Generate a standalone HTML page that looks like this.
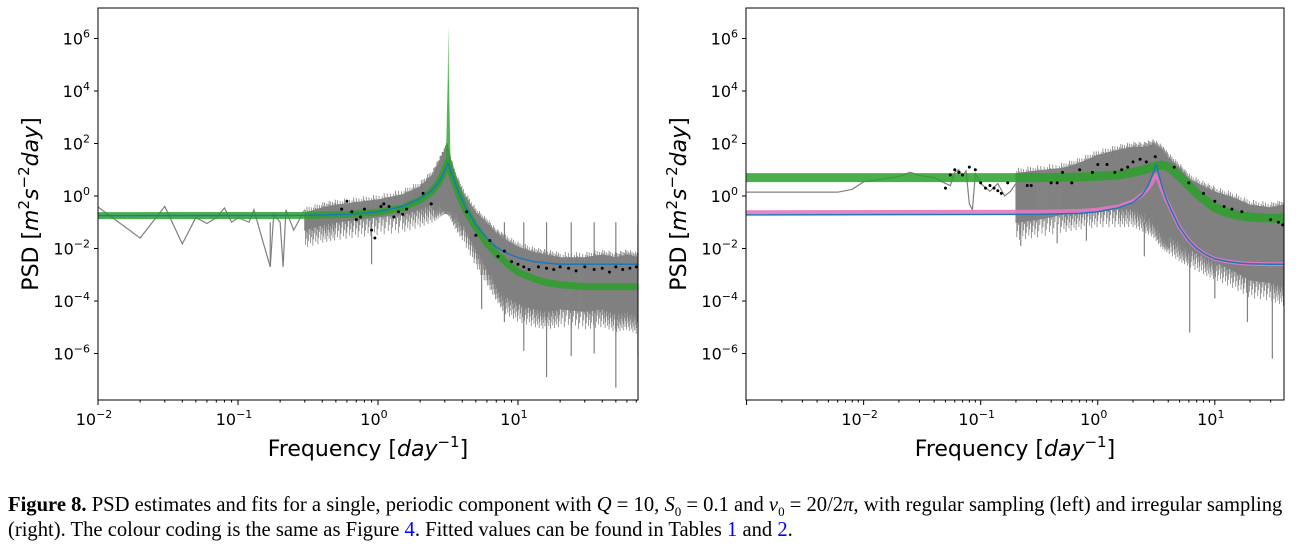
<!DOCTYPE html>
<html><head><meta charset="utf-8">
<style>
body{margin:0;background:#fff;width:1299px;height:555px;overflow:hidden;position:relative;font-family:"DejaVu Sans","Liberation Sans",sans-serif}
.cap{position:absolute;left:8px;font-family:"Liberation Serif",serif;font-size:20.6px;color:#000;white-space:nowrap}
.cap i{font-style:italic}
.cap a{color:#00f;text-decoration:none}
</style></head><body>
<svg id="chart" width="1299" height="470" style="position:absolute;left:0;top:0" xmlns="http://www.w3.org/2000/svg"></svg>
<div class="cap" style="top:494px"><b>Figure 8.</b> PSD estimates and fits for a single, periodic component with <i>Q</i> = 10, <i>S</i><sub style="font-size:13px">0</sub> = 0.1 and <i>ν</i><sub style="font-size:13px">0</sub> = 20/2<i>π</i>, with regular sampling (left) and irregular sampling</div>
<div class="cap" style="top:519px">(right). The colour coding is the same as Figure <a>4</a>. Fitted values can be found in Tables <a>1</a> and <a>2</a>.</div>
<script>
// ---- data (log10 frequency, log10 PSD) ----
const yTicks=[-6,-4,-2,0,2,4,6];
const L_xTicks=[-2,-1,0,1];
const R_xTicks=[-2,-1,0,1];
// left panel
const L_grayLineF=[0.01,0.02,0.03,0.04,0.05,0.06,0.07,0.08,0.09,0.1,0.12,0.13,0.15,0.17,0.18,0.2,0.21,0.22,0.25,0.3];
const L_grayLineV=[0.38,0.025,0.4,0.015,0.15,0.09,0.15,0.35,0.1,0.15,0.1,0.3,0.02,0.002,0.2,0.1,0.002,0.3,0.05,0.3];
const L_bandF=[0.3,0.4,0.5,0.7,1,1.5,2,2.5,2.8,3.0,3.1,3.25,3.5,4,5,6,7,8,10,13,16,20,30,40,50,60,72];
const L_bandHi=[-0.5,-0.3,-0.2,-0.1,0,0.2,0.5,1.0,1.5,1.8,2.0,1.6,1.0,0.3,-0.5,-0.9,-1.3,-1.5,-1.8,-2.0,-2.1,-2.2,-2.2,-2.1,-2.2,-2.1,-2.2];
const L_bandLo=[-1.8,-1.6,-1.5,-1.4,-1.3,-1.2,-1.0,-0.8,-0.6,-0.5,-0.5,-0.6,-1.0,-1.5,-2.5,-3.2,-3.8,-4.3,-4.6,-4.8,-4.9,-4.8,-4.9,-4.8,-5.0,-4.9,-5.1];
const L_spikeF=[0.17,0.9,5.5,8,11,16,24,35,50,72];
const L_spikeV=[-2.7,-2.6,-4.3,-4.8,-5.9,-6.9,-6.1,-6.0,-7.3,-6.1];
const L_fitF=[0.01,0.3,0.6,1,1.5,2,2.4,2.7,2.9,3.05,3.15,3.2,3.3,3.5,3.8,4.2,5,6,7,8.5,10,13,16,20,30,50,72];
const L_blue=[-0.75,-0.74,-0.7,-0.6,-0.4,-0.1,0.2,0.5,0.8,1.05,1.25,1.2,0.95,0.6,0.1,-0.4,-1.1,-1.6,-1.95,-2.2,-2.35,-2.5,-2.55,-2.6,-2.6,-2.6,-2.6];
const L_green=[-0.75,-0.74,-0.7,-0.62,-0.45,-0.15,0.15,0.5,0.8,1.1,1.3,1.25,0.95,0.55,0.05,-0.5,-1.2,-1.8,-2.2,-2.6,-2.9,-3.15,-3.3,-3.38,-3.45,-3.45,-3.45];
const L_dotF=[0.55,0.6,0.65,0.7,0.75,0.8,0.9,0.95,1.05,1.1,1.2,1.3,1.4,1.5,1.6,2.1,2.4,4.3,5,6.3,7.2,8,9,10,11,12,14,16,18,20,23,26,30,35,40,45,50,56,63,70];
const L_dotV=[-0.5,-0.2,-0.6,-0.9,-0.8,-0.5,-1.3,-1.6,-0.4,-0.3,-0.4,-0.8,-0.6,-0.7,-0.5,0.1,-0.3,-0.6,-1.5,-1.7,-2.3,-2.1,-2.5,-2.6,-2.7,-2.8,-2.7,-2.75,-2.8,-2.7,-2.75,-2.85,-2.7,-2.8,-2.75,-2.9,-2.7,-2.8,-2.75,-2.7];
// right panel
const R_grayLineF=[0.001,0.003,0.006,0.008,0.01,0.015,0.02,0.025,0.03,0.04,0.05,0.055,0.06,0.065,0.07,0.075,0.08,0.085,0.09,0.1,0.12,0.14,0.16,0.18,0.2];
const R_grayLineV=[1.4,1.4,1.4,1.8,3.5,4.5,5.5,8,6,5,3,2.5,8,10,6,9,0.5,0.3,7,3,1.5,3,1,1.5,3];
const R_bandF=[0.2,0.3,0.5,0.7,1,1.5,2,2.5,3,3.5,4,5,6,8,10,14,20,30,39];
const R_bandHi=[1.0,1.1,1.2,1.4,1.7,1.9,2.0,2.0,2.1,1.9,1.6,1.2,0.8,0.5,0.3,0.1,-0.2,-0.3,-0.2];
const R_bandLo=[-1.5,-1.4,-1.2,-1.1,-1.0,-1.0,-1.0,-1.2,-1.4,-1.8,-2.0,-2.3,-2.5,-2.8,-3.0,-3.3,-3.7,-3.8,-4.0];
const R_spikeF=[0.13,0.22,0.45,0.8,2.5,4.0,6.1,10,19,31];
const R_spikeV=[-1.0,-1.9,-1.8,-1.7,-2.3,-2.0,-5.2,-3.9,-4.8,-6.2];
const R_fitF=[0.001,0.3,0.7,1,1.5,2,2.4,2.7,2.9,3.05,3.15,3.2,3.3,3.5,3.8,4.2,5,6,7,8.5,10,13,16,20,30,39];
const R_green=[0.7,0.7,0.72,0.75,0.8,0.9,0.98,1.05,1.1,1.12,1.14,1.15,1.16,1.18,1.15,1.05,0.75,0.4,0.1,-0.2,-0.45,-0.65,-0.75,-0.8,-0.85,-0.85];
const R_pink=[-0.62,-0.6,-0.57,-0.52,-0.4,-0.2,0.05,0.3,0.5,0.7,0.8,0.78,0.6,0.3,-0.1,-0.5,-1.2,-1.7,-2.0,-2.25,-2.4,-2.5,-2.55,-2.58,-2.6,-2.6];
const R_blue=[-0.72,-0.7,-0.66,-0.6,-0.45,-0.25,0.05,0.4,0.75,1.0,1.2,1.15,0.85,0.45,-0.05,-0.5,-1.2,-1.7,-2.0,-2.25,-2.4,-2.5,-2.55,-2.58,-2.6,-2.6];
const R_dotF=[0.05,0.055,0.06,0.065,0.07,0.08,0.09,0.1,0.11,0.12,0.13,0.14,0.15,0.17,0.25,0.27,0.4,0.45,0.5,0.6,0.7,0.9,1.0,1.2,1.4,1.6,1.8,2.0,2.3,2.6,3.1,4.5,6,8,10,12,14,17,30,35,38];
const R_dotV=[0.3,0.8,1.0,0.9,0.8,1.1,1.0,0.5,0.3,0.4,0.3,0.2,0.1,0.5,0.4,0.4,0.5,0.5,0.9,0.5,1.0,0.9,1.2,1.2,0.9,1.0,1.1,1.3,1.4,1.3,1.5,1.1,0.5,0.1,-0.2,-0.4,-0.5,-0.6,-0.9,-1.0,-1.1];

const svg=document.getElementById('chart');
const NS='http://www.w3.org/2000/svg';
function mk(tag,attrs,parent){const e=document.createElementNS(NS,tag);for(const k in attrs)e.setAttribute(k,attrs[k]);(parent||svg).appendChild(e);return e;}
const Y0=8,Y1=400,YMAX=7.16,YMIN=-7.77;
function yS(v){return Y0+(YMAX-v)/(YMAX-YMIN)*(Y1-Y0);}

function panel(id,x0,x1,lxMin,lxMax,d){
  const xS=f=>x0+(Math.log10(f)-lxMin)/(lxMax-lxMin)*(x1-x0);
  const xL=l=>x0+(l-lxMin)/(lxMax-lxMin)*(x1-x0);
  const g=mk('g',{});
  
  
  const cp=mk('clipPath',{id:id+'clip'},g);mk('rect',{x:x0,y:Y0,width:x1-x0,height:Y1-Y0},cp);
  const pg=mk('g',{'clip-path':'url(#'+id+'clip)'},g);
  const gl=mk('polyline',{points:d.glF.map((f,i)=>xS(f)+','+yS(Math.log10(d.glV[i]))).join(' '),fill:'none',stroke:'#808080','stroke-width':1.2},pg);
  
  
  let pts=d.bF.map((f,i)=>xS(f)+','+yS(d.bHi[i]-0.15));
  pts=pts.concat(d.bF.map((f,i)=>xS(f)+','+yS(d.bLo[i]+0.5)).reverse());
  const band=mk('polygon',{points:pts.join(' '),fill:'#868686',stroke:'#808080','stroke-width':1},pg);
  
  
  for(let i=0;i<d.bF.length-1;i++){
    const n=24;
    for(let k=0;k<n;k++){
      const t=k/n, lf=Math.log10(d.bF[i])*(1-t)+Math.log10(d.bF[i+1])*t;
      const hi=d.bHi[i]*(1-t)+d.bHi[i+1]*t, lo=d.bLo[i]*(1-t)+d.bLo[i+1]*t;
      const ex=((k*7+i*3)%11)/11;
      mk('line',{x1:xL(lf),x2:xL(lf),y1:yS(hi-0.3+0.4*ex),y2:yS(lo+0.5-0.8*((k*5+i)%7)/7),stroke:'#808080','stroke-width':0.8},pg);
    }
  }
  d.sF.forEach((f,i)=>{
    const s=mk('line',{x1:xS(f),x2:xS(f),y1:yS(-1),y2:yS(d.sV[i]),stroke:'#808080','stroke-width':1.2},pg);
    
    
  });
  const line=(arr,col,w,op,name)=>{const e=mk('polyline',{points:d.fF.map((f,i)=>xS(f)+','+yS(arr[i])).join(' '),fill:'none',stroke:col,'stroke-width':w,'stroke-opacity':op,'stroke-linejoin':'round'},pg);
    
    return e;};
  if(d.green) line(d.green,'#2ca02c',d.gw,0.85,id+'-green-fits');
  if(d.peak){const pk=mk('polygon',{points:[xS(3.05)+','+yS(1.2),xS(3.15)+','+yS(4.5),xS(3.18)+','+yS(d.peak),xS(3.21)+','+yS(4.5),xS(3.3)+','+yS(1.2)].join(' '),fill:'#2ca02c',opacity:0.8},pg);
    
    }
  if(d.pink) line(d.pink,'#e377c2',4,0.9,id+'-pink-fit');
  line(d.blue,'#1f77b4',1.5,1,id+'-blue-fit');
  d.dF.forEach((f,i)=>{const c=mk('circle',{cx:xS(f),cy:yS(d.dV[i]),r:1.5,fill:'#000'},pg);
    
    });
  const fr=mk('rect',{x:x0,y:Y0,width:x1-x0,height:Y1-Y0,fill:'none',stroke:'#000','stroke-width':1},g);
  
  
  yTicks.forEach(v=>{const y=yS(v);mk('line',{x1:x0-4,x2:x0,y1:y,y2:y,stroke:'#000'},g);
    const t=mk('text',{x:x0-8,y:y+6,'text-anchor':'end','font-size':16,fill:'#000'},g);
    
    
    t.innerHTML='10<tspan dy="-7" font-size="11">'+String(v).replace('-','−')+'</tspan>';});
  for(let dd=Math.floor(lxMin);dd<=Math.ceil(lxMax);dd++){for(let m=1;m<10;m++){const l=dd+Math.log10(m);if(l<lxMin-1e-9||l>lxMax)continue;const x=xL(l);mk('line',{x1:x,x2:x,y1:Y1,y2:Y1+(m==1?5:2.5),stroke:'#000'},g);}}
  d.xT.forEach(v=>{const x=xL(v);const t=mk('text',{x:x-4,y:Y1+25,'text-anchor':'middle','font-size':16,fill:'#000'},g);
    
    
    t.innerHTML='10<tspan dy="-7" font-size="11">'+String(v).replace('-','−')+'</tspan>';});
  const xt=mk('text',{x:(x0+x1)/2,y:456,'text-anchor':'middle','font-size':22,fill:'#000'},g);
  
  
  xt.innerHTML='Frequency [<tspan font-style="italic">day</tspan><tspan dy="-9" font-size="15">−1</tspan><tspan dy="9">]</tspan>';
  const yt=mk('text',{x:0,y:0,'text-anchor':'middle','font-size':22,fill:'#000',transform:'translate('+(x0-60)+',204) rotate(-90)'},g);
  
  
  yt.innerHTML='PSD [<tspan font-style="italic">m</tspan><tspan dy="-9" font-size="15">2</tspan><tspan dy="9" font-style="italic">s</tspan><tspan dy="-9" font-size="15">−2</tspan><tspan dy="9" font-style="italic">day</tspan>]';
}
panel('left',98,638,-2,Math.log10(72),{glF:L_grayLineF,glV:L_grayLineV,bF:L_bandF,bHi:L_bandHi,bLo:L_bandLo,sF:L_spikeF,sV:L_spikeV,fF:L_fitF,green:L_green,gw:7,peak:6.5,blue:L_blue,dF:L_dotF,dV:L_dotV,xT:L_xTicks});
panel('right',746,1284,-3.005,Math.log10(39),{glF:R_grayLineF,glV:R_grayLineV,bF:R_bandF,bHi:R_bandHi,bLo:R_bandLo,sF:R_spikeF,sV:R_spikeV,fF:R_fitF,green:R_green,gw:9,pink:R_pink,blue:R_blue,dF:R_dotF,dV:R_dotV,xT:R_xTicks});
</script>
</body></html>
